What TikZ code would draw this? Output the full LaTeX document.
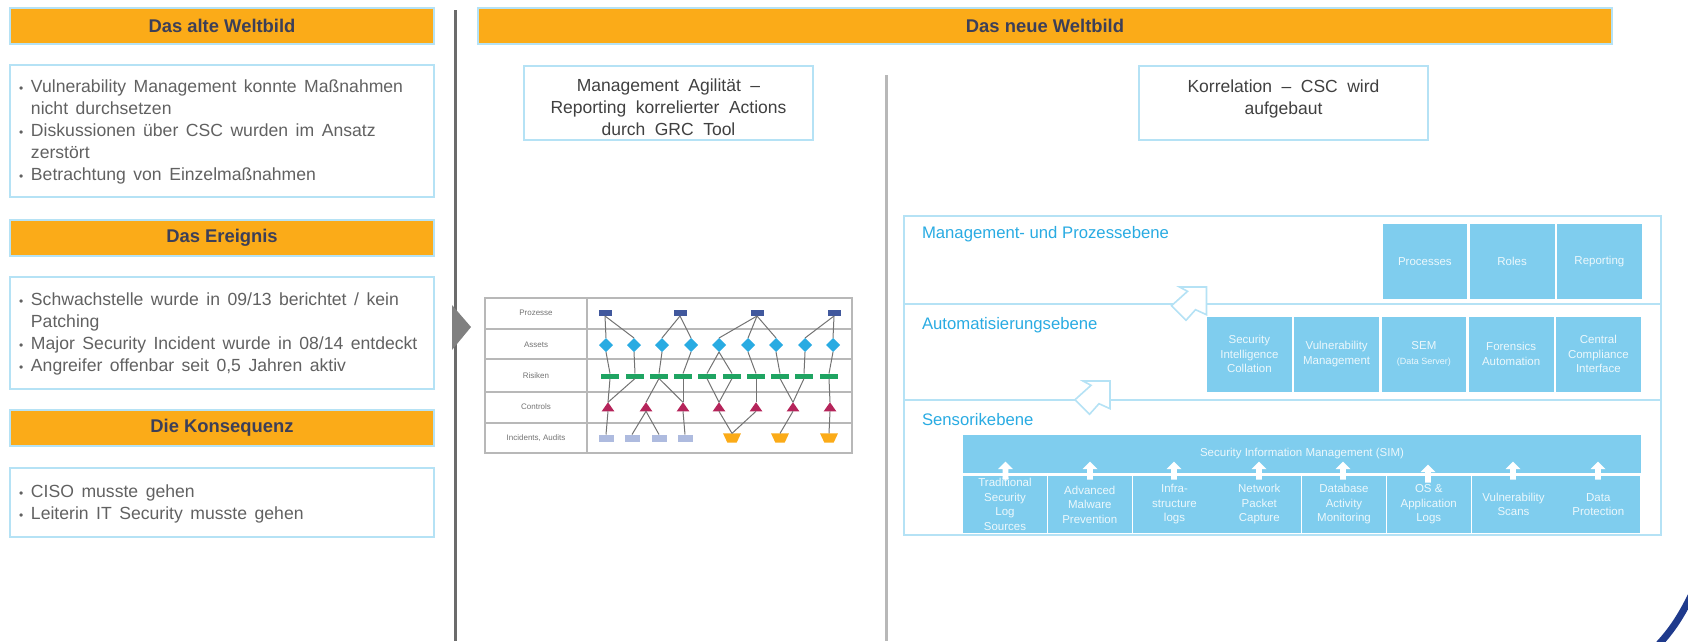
\documentclass[tikz,border=0pt]{standalone}
\usepackage{fontspec}
\setmainfont{Liberation Sans}
\usepackage{tikz}
\usetikzlibrary{positioning,shapes,shapes.geometric,shapes.arrows}
\definecolor{headOrange}{HTML}{FBAB18}
\definecolor{frameBlue}{HTML}{B5E2F5}
\definecolor{tileBlue}{HTML}{7FCDEE}
\definecolor{labelBlue}{HTML}{29ABE2}
\definecolor{headText}{HTML}{3C3F58}
\definecolor{darkNavy}{HTML}{1F3A8C}
\definecolor{riskGreen}{HTML}{1FA462}
\definecolor{controlRed}{HTML}{B5245A}
\definecolor{incidentBlue}{HTML}{AEBBDF}
\newcommand{\bulletLine}[1]{\par\hangindent=12pt\hangafter=1\noindent\makebox[12pt][l]{\fontsize{12}{22}\selectfont•}#1}
\newcommand{\boxEnd}{\endgraf\vspace{7pt}}

\begin{document}
\begin{tikzpicture}
      [x=1pt, y=-1pt,
      % STYLES
      every node/.style={outer sep=0pt},
      % The header style is used for the orange title bars
      header/.style={rectangle, draw=frameBlue, line width=1.2pt, fill=headOrange, minimum height=36pt, text=headText, font=\fontsize{18.4}{20}\selectfont\bfseries},
      % The textBox style holds the bullet lists
      textBox/.style={rectangle, draw=frameBlue, line width=1.3pt, inner xsep=9pt, inner ysep=0pt, text width=406pt, align=left, text=black!62, font=\fontsize{17.6}{22}\selectfont, execute at begin node={\spaceskip=7.5pt plus 1pt\relax}, execute at end node={\boxEnd}},
      % The titleBox style is used above the two right columns
      titleBox/.style={rectangle, draw=frameBlue, line width=1.3pt, minimum width=289pt, minimum height=74pt, align=center, text=black!75, font=\fontsize{17.5}{22}\selectfont, execute at begin node={\spaceskip=9.5pt plus 1pt\relax}},
      % The layer styles draw the three levels and their names
      layer/.style={rectangle, draw=frameBlue, line width=1.8pt, minimum width=757pt, anchor=north west},
      layerName/.style={anchor=west, inner sep=0pt, text=labelBlue, font=\fontsize{16.7}{20}\selectfont},
      % The tile style is used for the blue boxes
      tile/.style={rectangle, fill=tileBlue, minimum width=84.75pt, minimum height=75pt, align=center, inner sep=1pt, text=white!85!tileBlue, font=\fontsize{11.5}{14.5}\selectfont},
      sensorTile/.style={tile, minimum width=84pt, minimum height=57pt},
      upArrow/.style={single arrow, fill=white, inner sep=1pt, minimum height=18pt, minimum width=15pt, single arrow head extend=2pt, shape border rotate=90},
      hollowArrow/.style={draw=frameBlue, line width=1.6pt, fill=white},
      % The styles of the small table
      tableLine/.style={draw=black!28, line width=1.4pt},
      rowName/.style={inner sep=0pt, text=black!55, font=\fontsize{8}{10}\selectfont},
      link/.style={draw=black!55, line width=1pt},
      process/.style={rectangle, fill=darkNavy!85, minimum width=13pt, minimum height=6pt, inner sep=0pt},
      asset/.style={diamond, fill=labelBlue, minimum width=14pt, minimum height=14pt, inner sep=0pt},
      risk/.style={rectangle, fill=riskGreen, minimum width=18pt, minimum height=5pt, inner sep=0pt},
      control/.style={isosceles triangle, isosceles triangle apex angle=70, shape border rotate=90, fill=controlRed, minimum height=9pt, minimum width=10pt, inner sep=0pt},
      incident/.style={rectangle, fill=incidentBlue, minimum width=15pt, minimum height=7pt, inner sep=0pt},
      audit/.style={trapezium, trapezium angle=65, shape border rotate=180, fill=headOrange, minimum width=18pt, minimum height=9pt, inner sep=2pt}]

      \useasboundingbox (0,0) rectangle (1688,641);

      % Draw left column
      \node [header, minimum width=424pt, anchor=north west] (oldView) at (10,8) {Das alte Weltbild};
      \node [textBox, minimum height=132pt, below=21pt of oldView] (oldViewText) {
        \bulletLine{Vulnerability Management konnte Maßnahmen\newline nicht durchsetzen}
        \bulletLine{Diskussionen über CSC wurden im Ansatz\newline zerstört}
        \bulletLine{Betrachtung von Einzelmaßnahmen}
      };
      \node [header, minimum width=424pt, below=23pt of oldViewText] (event) {Das Ereignis};
      \node [textBox, minimum height=112pt, below=21pt of event] (eventText) {
        \bulletLine{Schwachstelle wurde in 09/13 berichtet / kein\newline Patching}
        \bulletLine{Major Security Incident wurde in 08/14 entdeckt}
        \bulletLine{Angreifer offenbar seit 0,5 Jahren aktiv}
      };
      \node [header, minimum width=424pt, below=21pt of eventText] (consequence) {Die Konsequenz};
      \node [textBox, minimum height=69pt, below=22pt of consequence] (consequenceText) {
        \bulletLine{CISO musste gehen}
        \bulletLine{Leiterin IT Security musste gehen}
      };

      %%%%%%%%%%%%%%%
      % Separators
      \coordinate (sepLeftTop) at (455.5,10);
      \coordinate (sepLeftEnd) at (455.5,641);
      \coordinate (sepMidTop) at (886,75);
      \coordinate (sepMidEnd) at (886,641);
      \draw[black!58, line width=2.2pt] (sepLeftTop) -- (sepLeftEnd);
      \draw[black!28, line width=3pt] (sepMidTop) -- (sepMidEnd);
      \fill[black!50] (452,305) -- (471,327) -- (452,350) -- cycle;

      % Draw right column
      \node [header, minimum width=1134pt, anchor=north west] (newView) at (478,8) {Das neue Weltbild};
      \node [titleBox, anchor=north west] (agility) at (524,66) {\rule{0pt}{22pt}Management Agilität –\\Reporting korrelierter Actions\\durch GRC Tool};
      \node [titleBox, anchor=north west] (correlation) at (1139,66) {\rule{0pt}{22pt}Korrelation – CSC wird\\aufgebaut\\~};

      %%%%%%%%%%%%%%%
      % Small table
      \draw[tableLine] (485,298) rectangle (852,453);
      \draw[tableLine] (485,329) -- (852,329) (485,359) -- (852,359) (485,392) -- (852,392) (485,423) -- (852,423) (587,298) -- (587,453);
      \node [rowName] (rowProcess) at (536,313) {Prozesse};
      \node [rowName] (rowAssets) at (536,345) {Assets};
      \node [rowName] (rowRisks) at (536,376) {Risiken};
      \node [rowName] (rowControls) at (536,407) {Controls};
      \node [rowName] (rowIncidents) at (536,438) {Incidents, Audits};

      \node [process] (processA) at (605,313) {};
      \node [process] (processB) at (680,313) {};
      \node [process] (processC) at (757,313) {};
      \node [process] (processD) at (834,313) {};

      \node [asset] (assetA) at (606,345) {};
      \node [asset] (assetB) at (634,345) {};
      \node [asset] (assetC) at (662,345) {};
      \node [asset] (assetD) at (691,345) {};
      \node [asset] (assetE) at (719,345) {};
      \node [asset] (assetF) at (748,345) {};
      \node [asset] (assetG) at (776,345) {};
      \node [asset] (assetH) at (805,345) {};
      \node [asset] (assetI) at (833,345) {};

      \node [risk] (riskA) at (610,376) {};
      \node [risk] (riskB) at (635,376) {};
      \node [risk] (riskC) at (659,376) {};
      \node [risk] (riskD) at (683,376) {};
      \node [risk] (riskE) at (707,376) {};
      \node [risk] (riskF) at (732,376) {};
      \node [risk] (riskG) at (756,376) {};
      \node [risk] (riskH) at (780,376) {};
      \node [risk] (riskI) at (804,376) {};
      \node [risk] (riskJ) at (829,376) {};

      \node [control] (controlA) at (608,408) {};
      \node [control] (controlB) at (646,408) {};
      \node [control] (controlC) at (683,408) {};
      \node [control] (controlD) at (719,408) {};
      \node [control] (controlE) at (756,408) {};
      \node [control] (controlF) at (793,408) {};
      \node [control] (controlG) at (830,408) {};

      \node [incident] (incidentA) at (606,438) {};
      \node [incident] (incidentB) at (632,438) {};
      \node [incident] (incidentC) at (659,438) {};
      \node [incident] (incidentD) at (685,438) {};
      \node [audit] (auditA) at (732,438) {};
      \node [audit] (auditB) at (780,438) {};
      \node [audit] (auditC) at (829,438) {};

      % Draw the links of the table
      \path[link]
        (processA.south) edge (assetA.north)
        (processA.south) edge (assetB.north)
        (processB.south) edge (assetC.north)
        (processB.south) edge (assetD.north)
        (processC.south) edge (assetE.north)
        (processC.south) edge (assetF.north)
        (processC.south) edge (assetG.north)
        (processD.south) edge (assetH.north)
        (processD.south) edge (assetI.north)
        (assetA.south) edge (riskA.north)
        (assetB.south) edge (riskB.north)
        (assetC.south) edge (riskC.north)
        (assetD.south) edge (riskD.north)
        (assetE.south) edge (riskE.north)
        (assetE.south) edge (riskF.north)
        (assetF.south) edge (riskG.north)
        (assetG.south) edge (riskH.north)
        (assetH.south) edge (riskI.north)
        (assetI.south) edge (riskJ.north)
        (riskA.south) edge (controlA.north)
        (riskB.south) edge (controlA.north)
        (riskC.south) edge (controlB.north)
        (riskC.south) edge (controlC.north)
        (riskD.south) edge (controlC.north)
        (riskE.south) edge (controlD.north)
        (riskF.south) edge (controlD.north)
        (riskG.south) edge (controlE.north)
        (riskH.south) edge (controlF.north)
        (riskI.south) edge (controlF.north)
        (riskJ.south) edge (controlG.north)
        (controlA.south) edge (incidentA.north)
        (controlB.south) edge (incidentB.north)
        (controlB.south) edge (incidentC.north)
        (controlC.south) edge (incidentD.north)
        (controlD.south) edge (auditA.north)
        (controlE.south) edge (auditA.north)
        (controlF.south) edge (auditB.north)
        (controlG.south) edge (auditC.north);

      %%%%%%%%%%%%%%%
      % The three levels
      \node [layer, minimum height=88pt] (managementLayer) at (904,216) {};
      \node [layer, minimum height=96pt, below=0pt of managementLayer] (automationLayer) {};
      \node [layer, minimum height=135pt, below=0pt of automationLayer] (sensorLayer) {};
      \node [layerName] (managementName) at (922,234) {Management- und Prozessebene};
      \node [layerName] (automationName) at (922,325) {Automatisierungsebene};
      \node [layerName] (sensorName) at (922,420) {Sensorikebene};

      \draw[hollowArrow, shift={(1206.5,287)}] (-27,0) -- (0,0) -- (0,27.7) -- (-11,22.7) -- (-20.5,33.3) -- (-35,18.7) -- (-19,4.3) -- cycle;
      \draw[hollowArrow, shift={(1110,381)}] (-27,0) -- (0,0) -- (0,27.7) -- (-11,22.7) -- (-20.5,33.3) -- (-35,18.7) -- (-19,4.3) -- cycle;

      % Draw tiles
      \node [tile, anchor=north west] (processes) at (1382.5,224) {Processes};
      \node [tile, right=2.5pt of processes] (roles) {Roles};
      \node [tile, right=2.5pt of roles] (reporting) {Reporting};

      \node [tile, anchor=north west] (intelligence) at (1207,316.5) {Security\\Intelligence\\Collation};
      \node [tile, right=2.5pt of intelligence] (vulnerability) {Vulnerability\\Management};
      \node [tile, right=2.5pt of vulnerability] (sem) {SEM\\{\fontsize{9}{14.5}\selectfont (Data Server)}};
      \node [tile, right=2.5pt of sem] (forensics) {Forensics\\Automation};
      \node [tile, right=2.5pt of forensics] (compliance) {Central\\Compliance\\Interface};

      \node [tile, minimum width=678pt, minimum height=38pt, anchor=north west] (sim) at (963,435) {Security Information Management (SIM)};
      \node [sensorTile, anchor=north west] (logSources) at (963,476) {Traditional\\Security\\Log\\Sources};
      \node [sensorTile, right=0.75pt of logSources] (malware) {Advanced\\Malware\\Prevention};
      \node [sensorTile, right=0.75pt of malware] (infrastructure) {Infra-\\structure\\logs};
      \node [sensorTile, right=0.75pt of infrastructure] (packet) {Network\\Packet\\Capture};
      \node [sensorTile, right=0.75pt of packet] (database) {Database\\Activity\\Monitoring};
      \node [sensorTile, right=0.75pt of database] (application) {OS \&\\Application\\Logs};
      \node [sensorTile, right=0.75pt of application] (scans) {Vulnerability\\Scans};
      \node [sensorTile, right=0.75pt of scans] (protection) {Data\\Protection};

      % White arrows from the sensors to the SIM
      \node [upArrow] (arrowA) at (1005.5,472) {};
      \node [upArrow] (arrowB) at (1090,472) {};
      \node [upArrow] (arrowC) at (1174,472) {};
      \node [upArrow] (arrowD) at (1259,472) {};
      \node [upArrow] (arrowE) at (1343,472) {};
      \node [upArrow] (arrowF) at (1428,475) {};
      \node [upArrow] (arrowG) at (1513,472) {};
      \node [upArrow] (arrowH) at (1598,472) {};

      % Corner of the page
      \draw[darkNavy, line width=7pt] (1691,596) .. controls (1681,616) and (1672,630) .. (1659,644);

    \end{tikzpicture}
\end{document}
